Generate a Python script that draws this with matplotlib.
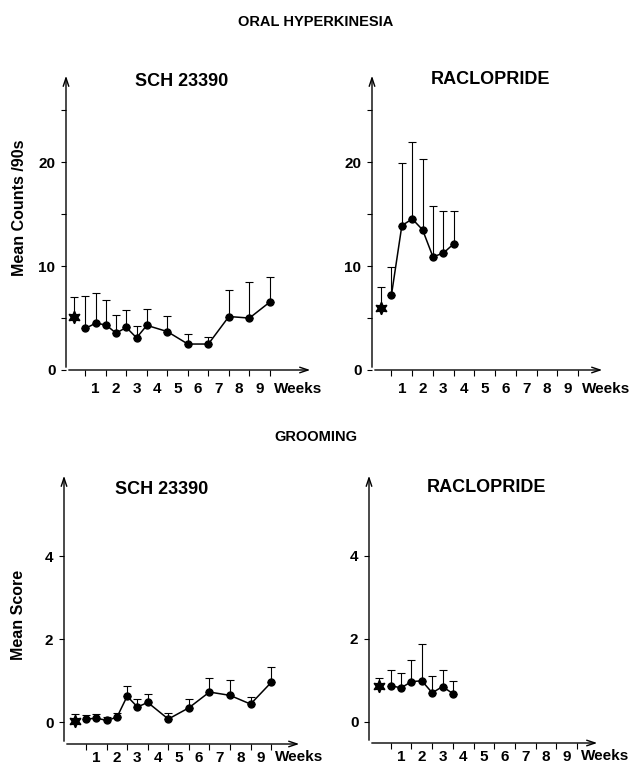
import matplotlib
matplotlib.use('Agg')
import matplotlib.pyplot as plt
from matplotlib.ticker import FixedLocator

plt.rcParams['font.family'] = ['Liberation Sans', 'DejaVu Sans']
plt.rcParams['font.weight'] = 'bold'

# positions on the week axis (tick units), labels 1..9 sit between ticks
week_labels = ['1', '2', '3', '4', '5', '6', '7', '8', '9']
label_pos = [0.5, 1.5, 2.5, 3.5, 4.5, 5.5, 6.5, 7.5, 8.5]
tick_pos = [0, 1, 2, 3, 4, 5, 6, 7, 8, 9]

# ORAL HYPERKINESIA - SCH 23390
oral_sch_x = [0, 0.5, 1, 1.5, 2, 2.5, 3, 4, 5, 6, 7, 8, 9]
oral_sch_mean = [4.0, 4.5, 4.35, 3.55, 4.1, 3.1, 4.3, 3.7, 2.5, 2.5, 5.15, 5.0, 6.55]
oral_sch_sem = [3.15, 2.95, 2.4, 1.7, 1.65, 1.1, 1.6, 1.5, 1.0, 0.7, 2.55, 3.5, 2.45]
oral_sch_base = (-0.55, 5.15, 1.85)

# ORAL HYPERKINESIA - RACLOPRIDE
oral_rac_x = [0, 0.5, 1, 1.5, 2, 2.5, 3]
oral_rac_mean = [7.25, 13.9, 14.55, 13.5, 10.9, 11.25, 12.15]
oral_rac_sem = [2.65, 6.05, 7.4, 6.85, 4.9, 4.1, 3.2]
oral_rac_base = (-0.52, 5.95, 2.0)

# GROOMING - SCH 23390
groom_sch_x = [0, 0.5, 1, 1.5, 2, 2.5, 3, 4, 5, 6, 7, 8, 9]
groom_sch_mean = [0.08, 0.10, 0.05, 0.12, 0.63, 0.37, 0.48, 0.08, 0.35, 0.73, 0.65, 0.44, 0.96]
groom_sch_sem = [0.10, 0.10, 0.09, 0.10, 0.24, 0.19, 0.21, 0.14, 0.21, 0.34, 0.38, 0.17, 0.37]
groom_sch_base = (-0.54, 0.03, 0.18)

# GROOMING - RACLOPRIDE
groom_rac_x = [0, 0.5, 1, 1.5, 2, 2.5, 3]
groom_rac_mean = [0.87, 0.82, 0.97, 0.99, 0.70, 0.85, 0.68]
groom_rac_sem = [0.39, 0.35, 0.52, 0.88, 0.41, 0.41, 0.31]
groom_rac_base = (-0.58, 0.87, 0.18)

W, H = 632, 768
fig = plt.figure(figsize=(W / 100, H / 100), dpi=100)


def px_axes(left, right, top, bottom):
    return fig.add_axes([left / W, 1 - bottom / H, (right - left) / W, (bottom - top) / H])


def ftext(x, y, s, size, **kw):
    # text placed in figure pixels from top-left
    fig.text(x / W, 1 - y / H, s, ha='center', va='center', fontsize=size,
             fontweight='bold', **kw)


def draw(ax, x, mean, sem, base, xlim, ylim, yticks, yminor, xpad, weeks_off):
    ax.set_xlim(*xlim)
    ax.set_ylim(*ylim)
    for s in ax.spines.values():
        s.set_visible(False)
    arrow = dict(arrowstyle='->,head_length=0.6,head_width=0.2', lw=1.0, color='black')
    ax.annotate('', xy=(1, 0), xytext=(0, 0), xycoords='axes fraction', arrowprops=arrow)
    ax.annotate('', xy=(0, 1), xytext=(0, 0), xycoords='axes fraction', arrowprops=arrow)

    ax.errorbar(x, mean, yerr=[[0] * len(sem), sem], fmt='-o', color='black',
                ms=5, lw=1.1, elinewidth=0.8, capsize=3, capthick=0.8)
    bx, by, bs = base
    ax.errorbar([bx], [by], yerr=[[0], [bs]], fmt='none', ecolor='black',
                elinewidth=0.8, capsize=3, capthick=0.8)
    ax.plot([bx], [by], marker=(6, 1, 0), color='black', ms=9)

    ax.xaxis.set_major_locator(FixedLocator(tick_pos))
    ax.xaxis.set_minor_locator(FixedLocator(label_pos))
    ax.set_xticklabels([''] * len(tick_pos))
    ax.set_xticklabels(week_labels, minor=True)
    ax.tick_params(axis='x', which='major', direction='out', length=4, width=0.8)
    ax.tick_params(axis='x', which='minor', length=0, pad=xpad, labelsize=11)
    ax.yaxis.set_major_locator(FixedLocator(yticks))
    ax.yaxis.set_minor_locator(FixedLocator(yminor))
    ax.tick_params(axis='y', which='both', direction='out', length=3.6, width=0.8,
                   labelsize=11, pad=4)
    for lab in ax.get_xticklabels(minor=True) + ax.get_yticklabels():
        lab.set_fontweight('bold')
    ax.annotate('Weeks', xy=(9.2, 0), xycoords=ax.get_xaxis_transform(),
                xytext=(0, -weeks_off), textcoords='offset points',
                ha='left', va='center', fontsize=11, fontweight='bold',
                annotation_clip=False)


ax1 = px_axes(66, 313, 73, 370)
draw(ax1, oral_sch_x, oral_sch_mean, oral_sch_sem, oral_sch_base,
     (-0.94, 11.1), (0, 28.6), [0, 10, 20], [5, 15, 25], 9, 14)

ax2 = px_axes(372, 605, 73, 370)
draw(ax2, oral_rac_x, oral_rac_mean, oral_rac_sem, oral_rac_base,
     (-0.94, 10.3), (0, 28.6), [0, 10, 20], [5, 15, 25], 9, 14)

ax3 = px_axes(64, 302, 473, 744)
draw(ax3, groom_sch_x, groom_sch_mean, groom_sch_sem, groom_sch_base,
     (-1.07, 10.5), (-0.52, 6.0), [0, 2, 4], [], 5, 9.5)

ax4 = px_axes(369, 600, 473, 743)
draw(ax4, groom_rac_x, groom_rac_mean, groom_rac_sem, groom_rac_base,
     (-1.05, 10.1), (-0.51, 6.0), [0, 2, 4], [], 5, 9.5)

ftext(316, 22, 'ORAL HYPERKINESIA', 10.5)
ftext(316, 437, 'GROOMING', 10.5)
ftext(182, 81, 'SCH 23390', 13)
ftext(490, 80, 'RACLOPRIDE', 13)
ftext(162, 489, 'SCH 23390', 13)
ftext(487, 488, 'RACLOPRIDE', 13)
ftext(20, 208, 'Mean Counts /90s', 11.5, rotation=90)
ftext(19, 615, 'Mean Score', 11.5, rotation=90)

fig.savefig('out.png', dpi=100)
